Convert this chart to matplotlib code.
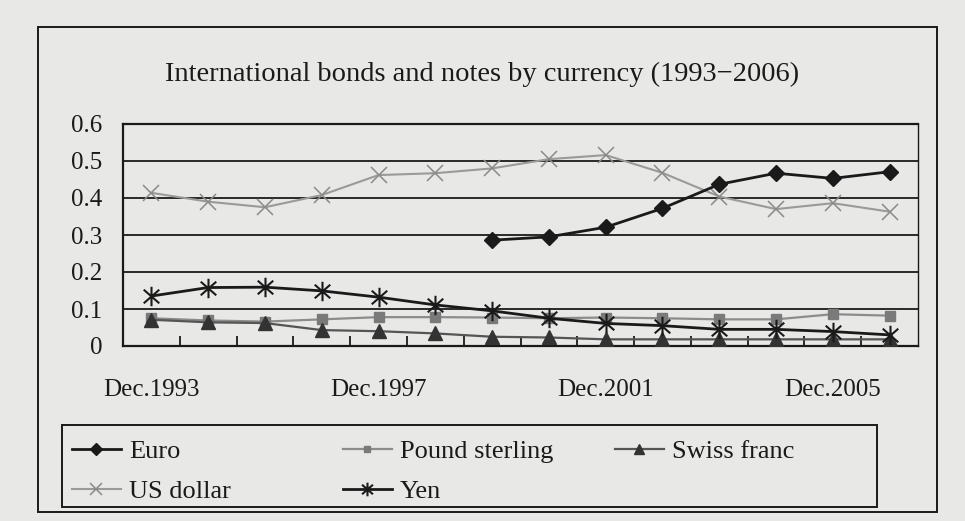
import numpy as np
import matplotlib
matplotlib.use("Agg")
import matplotlib.pyplot as plt
from matplotlib.path import Path
from matplotlib.patches import Rectangle

# ---- data ----
categories = ["Dec.1993", "Dec.1994", "Dec.1995", "Dec.1996", "Dec.1997", "Dec.1998",
              "Dec.1999", "Dec.2000", "Dec.2001", "Dec.2002", "Dec.2003", "Dec.2004",
              "Dec.2005", "Dec.2006"]
labelled_idx = [0, 4, 8, 12]
euro = [np.nan, np.nan, np.nan, np.nan, np.nan, np.nan,
        0.286, 0.295, 0.321, 0.372, 0.437, 0.467, 0.453, 0.471]
us_dollar = [0.414, 0.390, 0.375, 0.408, 0.462, 0.467, 0.480,
             0.505, 0.516, 0.468, 0.404, 0.370, 0.386, 0.363]
pound = [0.075, 0.069, 0.066, 0.072, 0.078, 0.078, 0.077,
         0.075, 0.077, 0.075, 0.072, 0.072, 0.086, 0.082]
swiss = [0.071, 0.064, 0.062, 0.043, 0.040, 0.034, 0.025,
         0.023, 0.018, 0.018, 0.018, 0.018, 0.018, 0.018]
yen = [0.135, 0.158, 0.159, 0.149, 0.132, 0.111, 0.095,
       0.075, 0.061, 0.055, 0.045, 0.045, 0.039, 0.030]
yticks = [0, 0.1, 0.2, 0.3, 0.4, 0.5, 0.6]
ytick_labels = ["0", "0.1", "0.2", "0.3", "0.4", "0.5", "0.6"]
title = "International bonds and notes by currency (1993\u22122006)"

# ---- style ----
BG = "#e8e8e6"
INK = "#1a1a1a"
plt.rcParams["font.family"] = ["Liberation Serif", "DejaVu Serif"]

W, H = 965, 521
fig = plt.figure(figsize=(W / 100, H / 100), dpi=100, facecolor=BG)

def fx(px):
    return px / W

def fy(py):
    return 1 - py / H

ax = fig.add_axes([fx(123), fy(346), fx(918) - fx(123), fy(124) - fy(346)])
ax.set_facecolor(BG)

x = np.arange(len(categories))

# asterisk marker for Yen (vertical bar + X)
ast_verts = [(0, -1), (0, 1), (-0.8, -0.7), (0.8, 0.7), (-0.8, 0.7), (0.8, -0.7)]
ast_codes = [Path.MOVETO, Path.LINETO] * 3
asterisk = Path(ast_verts, ast_codes)

ax.plot(x, euro, color=INK, lw=2.0, marker="D", ms=8.5, mfc=INK, mec=INK,
        label="Euro", zorder=5)
ax.plot(x, us_dollar, color="#9a9a9a", lw=1.5, marker="x", ms=12, mew=1.1,
        mec="#8a8a8a", label="US dollar", zorder=4)
ax.plot(x, pound, color="#8c8c8c", lw=1.6, marker="s", ms=7, mfc="#7a7a7a",
        mec="#7a7a7a", label="Pound sterling", zorder=4)
ax.plot(x, swiss, color="#555555", lw=1.6, marker="^", ms=10, mfc="#333333",
        mec="#333333", label="Swiss franc", zorder=4)
ax.plot(x, yen, color=INK, lw=2.0, marker=asterisk, ms=14, mew=1.5,
        mec=INK, mfc="none", label="Yen", zorder=5)

ax.set_xlim(-0.5, len(categories) - 0.5)
ax.set_ylim(0, 0.6)
ax.set_yticks(yticks)
ax.set_yticklabels(ytick_labels)
ax.set_xticks(labelled_idx)
ax.set_xticklabels([categories[i] for i in labelled_idx])
ax.set_xticks(np.arange(0.5, len(categories) - 1, 1.0), minor=True)

ax.tick_params(axis="x", which="major", length=0, pad=24, labelsize=18,
               labelcolor=INK)
ax.tick_params(axis="x", which="minor", direction="in", length=7, width=1.3,
               color=INK)
ax.tick_params(axis="y", which="both", length=0, pad=15, labelsize=18,
               labelcolor=INK)

ax.yaxis.grid(True, color=INK, lw=1.3)
ax.xaxis.grid(False)
ax.set_axisbelow(True)
for side in ["left", "bottom", "top"]:
    ax.spines[side].set_color(INK)
    ax.spines[side].set_linewidth(1.6)
ax.spines["right"].set_color(INK)
ax.spines["right"].set_linewidth(1.0)

# title
fig.text(0.5, fy(74), title, ha="center", va="center", fontsize=20.5, color=INK)

# outer frame and legend frame
fig.patches.append(Rectangle((fx(38), fy(512)), fx(937) - fx(38), fy(27) - fy(512),
                             transform=fig.transFigure, fill=False, ec=INK, lw=1.4))
fig.patches.append(Rectangle((fx(62), fy(507)), fx(877) - fx(62), fy(425) - fy(507),
                             transform=fig.transFigure, fill=False, ec=INK, lw=1.4))

handles, labels = ax.get_legend_handles_labels()
hmap = dict(zip(labels, handles))
columns = [(["Euro", "US dollar"], 72), (["Pound sterling", "Yen"], 343),
           (["Swiss franc"], 615)]
for names, left in columns:
    leg = fig.legend([hmap[n] for n in names], names, loc="upper left",
                     bbox_to_anchor=(fx(left), fy(440)), frameon=False,
                     borderpad=0, borderaxespad=0, fontsize=19,
                     handlelength=1.85, handletextpad=0.3, labelspacing=0.62,
                     markerscale=0.7, labelcolor=INK)

fig.savefig("out.png", dpi=100, facecolor=BG)
